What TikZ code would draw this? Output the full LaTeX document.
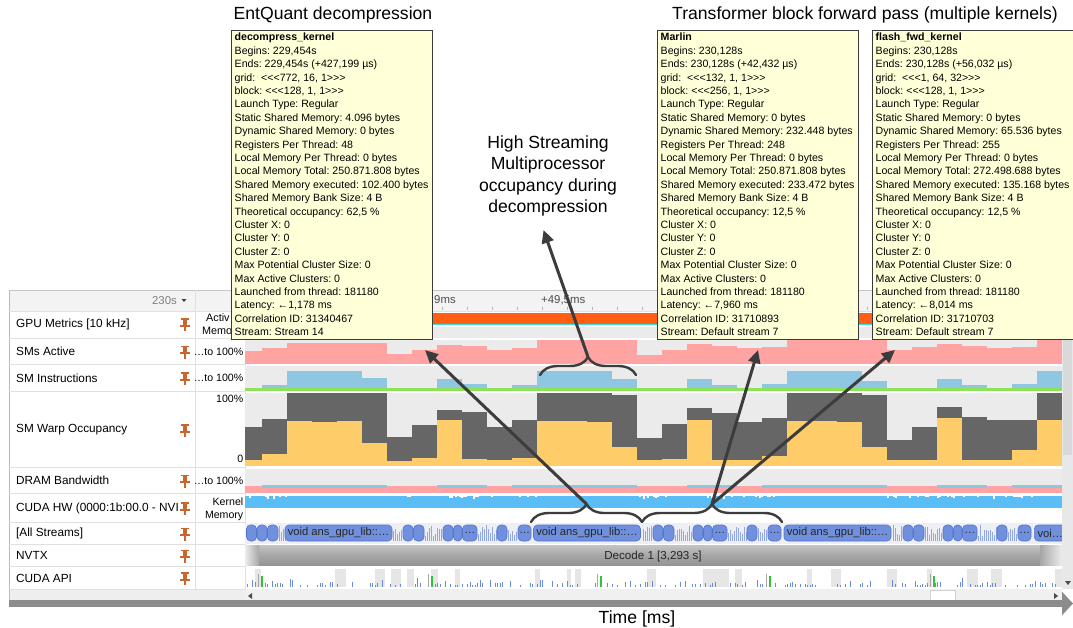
\documentclass[tikz,border=0pt]{standalone}
\usepackage{fontspec}
\setmainfont{Liberation Sans}
\usetikzlibrary{arrows.meta}
\usetikzlibrary{decorations.pathreplacing}

\definecolor{tipfill}{HTML}{FFFFD8}
\definecolor{tipline}{HTML}{3A3A3A}
\definecolor{annot}{HTML}{3C3C3C}
\definecolor{pinc}{HTML}{C9662C}
\definecolor{chartbg}{HTML}{EBEBEB}
\definecolor{smpink}{HTML}{FFA3A3}
\definecolor{smblue}{HTML}{8FC6E2}
\definecolor{smgreen}{HTML}{8CE35A}
\definecolor{warpdark}{HTML}{666666}
\definecolor{warpyel}{HTML}{FECD6A}
\definecolor{hwblue}{HTML}{5ABDF5}
\definecolor{kfill}{HTML}{7090DE}
\definecolor{kdraw}{HTML}{5274CF}
\definecolor{kthin}{HTML}{93A8E0}
\definecolor{kbg}{HTML}{EDEFF5}
\definecolor{gpuorange}{HTML}{FF5F15}
\definecolor{gpucyan}{HTML}{40DCE0}
\definecolor{apiblue}{HTML}{6A8CDB}
\definecolor{apigreen}{HTML}{2DC43A}
\definecolor{apigray}{HTML}{E6E6E6}
\definecolor{gridc}{HTML}{E0E0E0}
\definecolor{headbg}{HTML}{F3F3F3}
\definecolor{timegray}{HTML}{8C8C8C}
\definecolor{nvtop}{HTML}{C2C2C2}
\definecolor{nvmid}{HTML}{A6A6A6}
\definecolor{nvbot}{HTML}{939393}

\tikzset{
  tooltip/.style={draw=tipline, fill=tipfill, anchor=north west, align=left,
    inner xsep=3.5pt, inner ysep=3pt, font=\fontsize{10.6}{13.4}\selectfont\frenchspacing},
  rowlabel/.style={anchor=west, inner sep=0pt, font=\fontsize{11.8}{13}\selectfont},
  rowvalue/.style={anchor=east, inner sep=0pt, font=\fontsize{10.6}{12}\selectfont},
  bigtitle/.style={inner sep=0pt, font=\fontsize{17.6}{21.5}\selectfont},
  kshape/.style={fill=kfill, draw=kdraw, line width=0.6pt, rounded corners=4pt},
  kbox/.style={kshape, minimum width=107pt, minimum height=16pt, inner sep=0pt,
    font=\fontsize{11.2}{12}\selectfont, text=black!85},
  ktext/.style={inner sep=0pt, font=\fontsize{11}{12}\selectfont, text=black!85},
  annobrace/.style={annot, line width=2.4pt, line cap=round, decorate,
    decoration={brace, amplitude=18pt}},
  annoarrow/.style={annot, line width=3pt, -{Triangle[length=13pt, width=12pt]}},
}

% pushpin icon at height #1
\newcommand{\pinicon}[1]{%
  \fill[pinc] (181,#1-6) rectangle (189,#1-4.2);
  \fill[pinc] (182.6,#1-4.5) rectangle (187.4,#1+1);
  \fill[pinc] (180.2,#1+0.5) rectangle (189.8,#1+2.5);
  \draw[pinc, line width=1.2pt] (185,#1+2.5) -- (185,#1+7);}
% thin kernel bars: start, count
\newcommand{\thinbars}[2]{%
  \foreach \tbi in {0,...,#2} {
    \pgfmathsetmacro{\tbh}{5+11*rnd}
    \fill[kthin] ({#1+2*\tbi},{541-\tbh}) rectangle ({#1+2*\tbi+1.3},541);
  }}
% launch configuration without the << ligature
\newcommand{\dims}[1]{<{}<{}<#1>{}>{}>}

% segment / dark top / yellow top / pink top / blue top
\def\segdata{0/427/460/351/0, 1/419/454/348/385, 2/393/421/343/371, 3/393/422/343/371,
  4/393/421/343/371, 5/393/443/343/378, 6/437/461/354/0, 7/425/458/350/0,
  8/410/420/345/379, 9/412/459/346/384, 10/427/460/350/0, 11/420/458/348/385,
  12/393/421/340/371, 13/393/421/340/371, 14/393/422/340/371, 15/395/447/340/379,
  16/438/460/355/0, 17/424/459/350/0, 18/408/420/344/379, 19/413/460/346/385,
  20/422/460/348/0, 21/418/456/347/384, 22/393/421/340/371, 23/393/421/340/371,
  24/393/422/340/371, 25/395/447/340/381, 26/440/460/350/0, 27/427/460/347/0,
  28/407/418/344/379, 29/417/460/346/385, 30/420/460/348/0, 31/420/450/347/384,
  32/393/420/340/371}

\begin{document}
\begin{tikzpicture}[x=1pt, y=-1pt]
	\useasboundingbox (0,0) rectangle (1073,628);
	\fill[white] (0,0) rectangle (1073,628);
	\pgfmathsetseed{7}

	% panel frame and header
	\fill[headbg] (9,290) rectangle (1062,311);
	\draw[gray!45] (9,290) -- (1073,290);
	\draw[gray!55] (9,290) -- (9,603);
	\draw[gridc] (9,311) -- (1062,311);
	\node[rowvalue, text=gray, font=\fontsize{11.4}{13}\selectfont] (headtime) at (177,300.5) {230s};
	\fill[black!75] (181.5,299) -- (186.5,299) -- (184,302) -- cycle;
	\foreach \t in {267,292,...,1042} {\draw[gray!60] (\t,306.5) -- (\t,310);}
	\node[anchor=west, inner sep=0pt, text=black!70, font=\fontsize{11.4}{13}\selectfont] (tick9) at (434,300) {9ms};
	\node[anchor=west, inner sep=0pt, text=black!70, font=\fontsize{11.4}{13}\selectfont] (tick49) at (541,300) {+49,5ms};

	% left column grid
	\foreach \y in {338.5,364.5,391.5,467,493.5,522,544.5,566.5,589} {
		\draw[gridc] (9,\y) -- (245,\y);
	}
	\draw[gridc] (195,290) -- (195,589);
	\draw[gridc] (245,290) -- (245,589);

	% row labels
	\node[rowlabel] (lgpu) at (16,324) {GPU Metrics [10 kHz]};
	\node[rowlabel] (lsma) at (16,351.5) {SMs Active};
	\node[rowlabel] (lsmi) at (16,378) {SM Instructions};
	\node[rowlabel] (lwarp) at (16,430) {SM Warp Occupancy};
	\node[rowlabel] (ldram) at (16,480.5) {DRAM Bandwidth};
	\begin{scope}
		\clip (10,494) rectangle (178,522);
		\node[rowlabel] (lhw) at (16,508) {CUDA HW (0000:1b:00.0 - NVID};
	\end{scope}
	\node[rowlabel] (lstreams) at (16,533.5) {[All Streams]};
	\node[rowlabel] (lnvtx) at (16,555.5) {NVTX};
	\node[rowlabel] (lapi) at (16,578) {CUDA API};
	\foreach \y in {324,351.5,378,430,480.5,508,533.5,555.5,578} {\pinicon{\y}}

	% value column
	\node[anchor=west, inner sep=0pt, font=\fontsize{10.8}{12}\selectfont] (vact) at (206,318) {Activ};
	\node[anchor=west, inner sep=0pt, font=\fontsize{10.8}{12}\selectfont] (vmem) at (202,331) {Memo};
	\node[rowvalue] (vsma) at (243.5,351.5) {…to 100\%};
	\node[rowvalue] (vsmi) at (243.5,378) {…to 100\%};
	\node[rowvalue] (vwtop) at (243.5,399) {100\%};
	\node[rowvalue] (vwbot) at (243.5,459) {0};
	\node[rowvalue] (vdram) at (243.5,480.5) {…to 100\%};
	\node[rowvalue] (vkern) at (243.5,502) {Kernel};
	\node[rowvalue] (vkmem) at (243.5,515.5) {Memory};

	% chart rows
	\begin{scope}
		\clip (245,290) rectangle (1062,600);
		\fill[gpuorange] (245,312.5) rectangle (1062,323.5);
		\fill[gpucyan] (245,323.5) rectangle (1062,325.3);
		\fill[chartbg] (245,326.5) rectangle (1062,337.5);
		\fill[chartbg] (245,339.5) rectangle (1062,363.5);
		\fill[chartbg] (245,365.5) rectangle (1062,390.5);
		\fill[smgreen] (245,387.5) rectangle (1062,390.5);
		\fill[chartbg] (245,393) rectangle (1062,465.5);
		\fill[chartbg] (245,468.5) rectangle (1062,492.5);
		\fill[smpink] (245,488) rectangle (1062,492.5);
		\foreach \k/\dk/\yl/\pk/\bl in \segdata {
			\pgfmathsetmacro{\xa}{max(245,237+25*\k)}
			\pgfmathsetmacro{\xb}{262+25*\k}
			\fill[smpink] (\xa,\pk) rectangle (\xb,363.5);
			\fill[warpdark] (\xa,\dk) rectangle (\xb,465.5);
			\fill[warpyel] (\xa,\yl) rectangle (\xb,465.5);
			\ifnum\bl>0
				\fill[smblue] (\xa,\bl) rectangle (\xb,388);
				\fill[smblue] (\xa,484.5) rectangle (\xb,488);
			\else
				\fill[smpink] (\xa,486) rectangle (\xb,488);
			\fi
		}

		% CUDA HW
		\fill[hwblue] (245,499.5) rectangle (1062,507.5);
		\foreach \a/\b in {287/387, 537/637, 787/887, 1037/1062} {
			\fill[hwblue] (\a,495.5) rectangle (\b,499.6);
		}
		\foreach \a in {245,387,637,887} {
			\foreach \i in {0,...,75} {
				\pgfmathsetmacro{\hx}{\a+2*\i}
				\pgfmathsetmacro{\ht}{495.5+6.5*rnd*rnd*rnd}
				\fill[hwblue] (\hx,\ht) rectangle (\hx+2.05,499.6);
			}
		}

		% All Streams
		\fill[kbg] (245,523) rectangle (1062,543.5);
		\draw[kshape] (246.5,525) rectangle (256.5,541);
		\draw[kshape] (257,525) rectangle (267,541);
		\draw[kshape] (267.5,525) rectangle (278,541);
		\thinbars{279}{3}
		\node[kbox] (kdec1) at (338.5,533) {void ans\_gpu\_lib::…};
		\node[kbox] (kdec2) at (587,533) {void ans\_gpu\_lib::…};
		\node[kbox] (kdec3) at (837.5,533) {void ans\_gpu\_lib::…};
		\node[kbox, minimum width=32pt, anchor=west] (kdec4) at (1034,533) {voi…};
		\foreach \g [count=\n] in {392,642,892} {
			\thinbars{\g+1}{4}
			\draw[kshape] (\g+11,525) rectangle (\g+21,541);
			\draw[kshape] (\g+21.5,525) rectangle (\g+32,541);
			\thinbars{\g+33}{8}
			\draw[kshape] (\g+51,525) rectangle (\g+61,541);
			\draw[kshape] (\g+61.5,525) rectangle (\g+70,541);
			\draw[kshape] (\g+70.5,525) rectangle (\g+85,541);
			\node[ktext] (dotsa\n) at (\g+77.75,533) {…};
			\thinbars{\g+86}{9}
			\draw[kshape] (\g+105,525) rectangle (\g+115,541);
			\thinbars{\g+116}{4}
			\draw[kshape] (\g+126,525) rectangle (\g+139,541);
			\node[ktext] (dotsb\n) at (\g+132.5,533) {…};
		}

		% NVTX
		\shade[top color=nvtop, bottom color=nvbot, middle color=nvmid] (245,545.5) rectangle (1062,565.5);
		\shade[left color=white!85!gray, right color=nvmid] (245,545.5) rectangle (259,565.5);
		\shade[left color=nvmid, right color=white!85!gray] (1040,545.5) rectangle (1062,565.5);
		\node[inner sep=0pt, text=black!85, font=\fontsize{11.6}{13}\selectfont] (decode) at (653,556) {Decode 1 [3,293 s]};

		% CUDA API
		\foreach \x in {247,255,...,1055} {
			\pgfmathsetmacro{\r}{rnd}
			\ifdim\r pt<0.3pt
				\pgfmathsetmacro{\w}{3+9*rnd}
				\fill[apigray] (\x,568.5) rectangle (\x+\w,587);
			\fi
		}
		\foreach \x in {247,249.5,...,1058} {
			\pgfmathsetmacro{\r}{rnd}
			\ifdim\r pt<0.45pt
				\pgfmathsetmacro{\h}{2+7*rnd*rnd}
				\fill[apiblue] (\x,587-\h) rectangle (\x+1.4,587);
			\fi
		}
		\foreach \x in {261,431,600,769,933} {
			\fill[gray!70] (\x-3,574) rectangle (\x-1.8,587);
			\fill[apigreen] (\x,576) rectangle (\x+1.6,587);
		}

		% horizontal scrollbar
		\fill[gray!12] (245,589) rectangle (1062,600);
		\fill[black!70] (248,596) -- (252,593) -- (252,599) -- cycle;
		\draw[gray!35, fill=white] (930,590) rectangle (955,600);
		\fill[black!70] (1058,596) -- (1054,593) -- (1054,599) -- cycle;
	\end{scope}
	\fill[gray!13] (9.5,589.5) rectangle (245,600);

	% vertical scrollbar
	\fill[gray!18] (1062,290) rectangle (1073,589);
	\fill[gray!30] (1063,330) rectangle (1072,455);
	\fill[black!70] (1065,581) -- (1071,581) -- (1068,585) -- cycle;

	% time axis
	\coordinate (tstart) at (9,603.5);
	\coordinate (tend) at (1073,603.5);
	\draw[timegray, line width=7pt, -{Triangle[length=11pt, width=23pt]}] (tstart) -- (tend);
	\node[bigtitle] (timelabel) at (637,619) {Time [ms]};

	% tooltips
	\node[tooltip] (tipdec) at (231,30) {\textbf{decompress\_kernel}\\
		Begins: 229,454s\\
		Ends: 229,454s (+427,199 µs)\\
		grid:\ \ \dims{772, 16, 1}\\
		block: \dims{128, 1, 1}\\
		Launch Type: Regular\\
		Static Shared Memory: 4.096 bytes\\
		Dynamic Shared Memory: 0 bytes\\
		Registers Per Thread: 48\\
		Local Memory Per Thread: 0 bytes\\
		Local Memory Total: 250.871.808 bytes\\
		Shared Memory executed: 102.400 bytes\\
		Shared Memory Bank Size: 4 B\\
		Theoretical occupancy: 62,5 \%\\
		Cluster X: 0\\
		Cluster Y: 0\\
		Cluster Z: 0\\
		Max Potential Cluster Size: 0\\
		Max Active Clusters: 0\\
		Launched from thread: 181180\\
		Latency: ←1,178 ms\\
		Correlation ID: 31340467\\
		Stream: Stream 14};
	\node[tooltip] (tipmarlin) at (657,30) {\textbf{Marlin}\\
		Begins: 230,128s\\
		Ends: 230,128s (+42,432 µs)\\
		grid:\ \ \dims{132, 1, 1}\\
		block: \dims{256, 1, 1}\\
		Launch Type: Regular\\
		Static Shared Memory: 0 bytes\\
		Dynamic Shared Memory: 232.448 bytes\\
		Registers Per Thread: 248\\
		Local Memory Per Thread: 0 bytes\\
		Local Memory Total: 250.871.808 bytes\\
		Shared Memory executed: 233.472 bytes\\
		Shared Memory Bank Size: 4 B\\
		Theoretical occupancy: 12,5 \%\\
		Cluster X: 0\\
		Cluster Y: 0\\
		Cluster Z: 0\\
		Max Potential Cluster Size: 0\\
		Max Active Clusters: 0\\
		Launched from thread: 181180\\
		Latency: ←7,960 ms\\
		Correlation ID: 31710893\\
		Stream: Default stream 7};
	\node[tooltip] (tipflash) at (872,30) {\textbf{flash\_fwd\_kernel}\\
		Begins: 230,128s\\
		Ends: 230,128s (+56,032 µs)\\
		grid:\ \ \dims{1, 64, 32}\\
		block: \dims{128, 1, 1}\\
		Launch Type: Regular\\
		Static Shared Memory: 0 bytes\\
		Dynamic Shared Memory: 65.536 bytes\\
		Registers Per Thread: 255\\
		Local Memory Per Thread: 0 bytes\\
		Local Memory Total: 272.498.688 bytes\\
		Shared Memory executed: 135.168 bytes\\
		Shared Memory Bank Size: 4 B\\
		Theoretical occupancy: 12,5 \%\\
		Cluster X: 0\\
		Cluster Y: 0\\
		Cluster Z: 0\\
		Max Potential Cluster Size: 0\\
		Max Active Clusters: 0\\
		Launched from thread: 181180\\
		Latency: ←8,014 ms\\
		Correlation ID: 31710703\\
		Stream: Default stream 7};

	% titles and annotation
	\node[bigtitle] (tdec) at (333,15) {EntQuant decompression};
	\node[bigtitle] (ttrans) at (865,15) {Transformer block forward pass (multiple kernels)};
	\node[bigtitle, align=center] (hsmtext) at (548,176) {High Streaming\\Multiprocessor\\occupancy during\\decompression};

	\coordinate (bup) at (588,357);
	\coordinate (blo1) at (586.5,504);
	\coordinate (blo2) at (712,504);
	\coordinate (hsmtip) at (543.5,230);
	\coordinate (pinkA) at (425,350);
	\coordinate (pinkB) at (758,350);
	\coordinate (pinkC) at (895,350);
	\draw[annobrace] (540,375) -- (636,375);
	\draw[annobrace] (531,522) -- (642,522);
	\draw[annobrace] (642,522) -- (782,522);
	\draw[annoarrow] (bup) -- (hsmtip);
	\draw[annoarrow] (blo1) -- (pinkA);
	\draw[annoarrow] (blo2) -- (pinkB);
	\draw[annoarrow] (blo2) -- (pinkC);
\end{tikzpicture}
\end{document}
